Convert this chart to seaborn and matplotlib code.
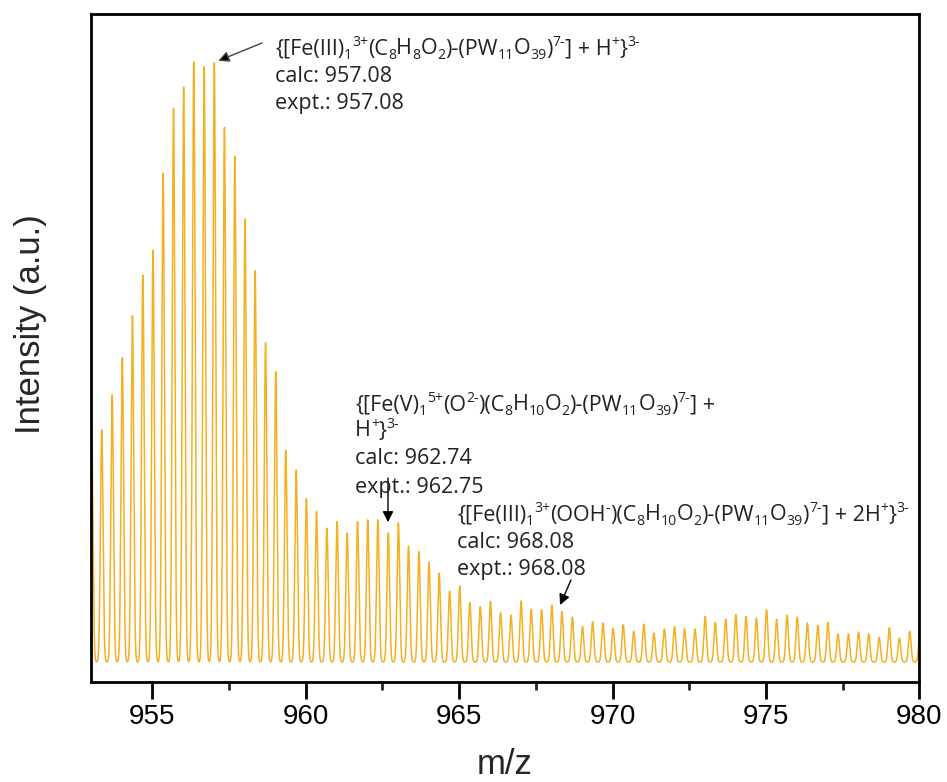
import numpy as np
import pandas as pd
import matplotlib
matplotlib.use("Agg")
import matplotlib.pyplot as plt
import seaborn as sns

# ---- data (peak centroids, relative intensity %) ----
peak_mz = [953.02, 953.35, 953.69, 954.02, 954.35, 954.69, 955.02, 955.35, 955.69,
           956.02, 956.35, 956.69, 957.02, 957.35, 957.69, 958.02, 958.35, 958.69,
           959.02, 959.35, 959.69, 960.02, 960.35, 960.69, 961.02, 961.35, 961.69,
           962.02, 962.35, 962.69, 963.02, 963.35, 963.69, 964.02, 964.35, 964.69,
           965.02, 965.35, 965.69, 966.02, 966.35, 966.69, 967.02, 967.35, 967.69,
           968.02, 968.35, 968.69, 969.02, 969.35, 969.69, 970.02, 970.35, 970.69,
           971.02, 971.35, 971.69, 972.02, 972.35, 972.69, 973.02, 973.35, 973.69,
           974.02, 974.35, 974.69, 975.02, 975.35, 975.69, 976.02, 976.35, 976.69,
           977.02, 977.35, 977.69, 978.02, 978.35, 978.69, 979.02, 979.35, 979.69,
           980.02]
peak_int = [39.2, 38.7, 44.5, 50.7, 57.7, 64.5, 68.6, 81.5, 92.2,
            95.8, 100.0, 99.2, 99.9, 89.1, 84.3, 73.8, 65.2, 53.2,
            48.4, 35.3, 32.0, 27.2, 25.1, 22.3, 23.4, 21.5, 23.4,
            23.7, 23.7, 21.5, 23.2, 19.3, 18.4, 16.6, 14.8, 11.8,
            12.7, 9.9, 9.2, 10.1, 8.2, 7.8, 10.2, 8.8, 8.7,
            9.5, 8.4, 7.5, 5.9, 6.7, 6.5, 5.6, 6.2, 5.1,
            6.3, 4.8, 5.5, 5.9, 5.5, 5.5, 7.6, 6.6, 7.1,
            7.9, 7.6, 7.3, 8.7, 7.1, 7.8, 7.5, 6.5, 6.1,
            6.6, 4.7, 4.7, 5.0, 4.7, 4.1, 5.7, 4.0, 5.1,
            5.3]

xticks_major = [955, 960, 965, 970, 975, 980]
xticks_minor = [957.5, 962.5, 967.5, 972.5, 977.5]

# formula chunks: (text, kind) with n = normal, b = subscript, p = superscript
formula_1 = [("{[Fe(III)", "n"), ("1", "b"), ("3+", "p"), ("(C", "n"), ("8", "b"),
             ("H", "n"), ("8", "b"), ("O", "n"), ("2", "b"), (")-(PW", "n"),
             ("11", "b"), ("O", "n"), ("39", "b"), (")", "n"), ("7-", "p"),
             ("] + H", "n"), ("+", "p"), ("}", "n"), ("3-", "p")]
formula_2a = [("{[Fe(V)", "n"), ("1", "b"), ("5+", "p"), ("(O", "n"), ("2-", "p"),
              (")(C", "n"), ("8", "b"), ("H", "n"), ("10", "b"), ("O", "n"), ("2", "b"),
              (")-(PW", "n"), ("11", "b"), ("O", "n"), ("39", "b"), (")", "n"),
              ("7-", "p"), ("] +", "n")]
formula_2b = [("H", "n"), ("+", "p"), ("}", "n"), ("3-", "p")]
formula_3 = [("{[Fe(III)", "n"), ("1", "b"), ("3+", "p"), ("(OOH", "n"), ("-", "p"),
             (")(C", "n"), ("8", "b"), ("H", "n"), ("10", "b"), ("O", "n"), ("2", "b"),
             (")-(PW", "n"), ("11", "b"), ("O", "n"), ("39", "b"), (")", "n"),
             ("7-", "p"), ("] + 2H", "n"), ("+", "p"), ("}", "n"), ("3-", "p")]
ann_calc = ["957.08", "962.74", "968.08"]
ann_expt = ["957.08", "962.75", "968.08"]
ann_peak_mz = [957.15, 962.68, 968.29]
ann_peak_int = [100.2, 23.3, 9.5]

# ---- build profile from the centroid list (peak broadening for display) ----
mz_grid = np.arange(952.9, 980.1, 0.002)
sigma = 0.042
prof = np.zeros_like(mz_grid)
for m, h in zip(peak_mz, peak_int):
    prof += h * np.exp(-0.5 * ((mz_grid - m) / sigma) ** 2)
df = pd.DataFrame({"mz": mz_grid, "intensity": prof})

# ---- figure ----
sns.set_theme(style="white")
plt.rcParams["font.family"] = ["Liberation Sans", "DejaVu Sans"]

W, H = 947, 782
fig = plt.figure(figsize=(W / 100, H / 100), dpi=100)
ax = fig.add_axes([91 / W, 1 - 682 / H, (919.3 - 91) / W, (682 - 14) / H])

sns.lineplot(data=df, x="mz", y="intensity", ax=ax, color="#F5B022", lw=1.1)

ax.set_xlim(953, 980)
ax.set_ylim(-3.33, 108)
ax.set_xticks(xticks_major)
ax.set_xticks(xticks_minor, minor=True)
ax.set_yticks([])
ax.tick_params(axis="x", which="major", direction="out", length=12, width=2,
               labelsize=20, pad=4, colors="black", bottom=True)
ax.tick_params(axis="x", which="minor", direction="out", length=6, width=2, bottom=True)
for s in ax.spines.values():
    s.set_linewidth(2)
    s.set_color("black")
    s.set_visible(True)

ax.set_xlabel("m/z", fontsize=25)
ax.set_ylabel("Intensity (a.u.)", fontsize=25)
ax.xaxis.set_label_coords(0.5, (682 - 765) / (682 - 14))
ax.xaxis.label.set_va("center")
ax.yaxis.set_label_coords((30 - 91) / (919.3 - 91), (682 - 324) / (682 - 14))
ax.yaxis.label.set_va("center")

# ---- annotations ----
FS = 15.5
TFAM = ["Open Sans", "DejaVu Sans"]
TCOL = "#222222"
renderer = fig.canvas.get_renderer()


def fx(px):
    return px / W


def fy(py):
    return 1 - py / H


def rich(x_px, base_px, chunks, size=FS):
    em = size * 100 / 72
    x = x_px
    for txt, kind in chunks:
        if kind == "n":
            s, dy = size, 0.0
        elif kind == "b":
            s, dy = size * 0.65, 0.22 * em
        else:
            s, dy = size * 0.65, -0.40 * em
        t = fig.text(fx(x), fy(base_px + dy), txt, fontsize=s, family=TFAM,
                     color=TCOL, ha="left", va="baseline")
        x += t.get_window_extent(renderer).width


def plain(x_px, base_px, txt, size=FS):
    fig.text(fx(x_px), fy(base_px), txt, fontsize=size, family=TFAM,
             color=TCOL, ha="left", va="baseline")


arrow_kw = dict(arrowstyle="-|>", lw=1.0, mutation_scale=16, shrinkA=0, shrinkB=0)

# annotation 1
rich(275, 54.5, formula_1)
plain(275, 82, "calc: " + ann_calc[0])
plain(275, 109, "expt.: " + ann_expt[0])
ax.annotate("", xy=(ann_peak_mz[0], ann_peak_int[0]), xycoords="data",
            xytext=(fx(262), fy(43)), textcoords="figure fraction",
            arrowprops=dict(color="#444444", fc="black", **arrow_kw))

# annotation 2
rich(355, 410.5, formula_2a)
rich(355, 436.5, formula_2b)
plain(355, 464.5, "calc: " + ann_calc[1])
plain(355, 492.5, "expt.: " + ann_expt[1])
ax.annotate("", xy=(ann_peak_mz[1], ann_peak_int[1]), xycoords="data",
            xytext=(fx(388), fy(478)), textcoords="figure fraction",
            arrowprops=dict(color="black", fc="black", **arrow_kw))

# annotation 3
rich(457, 520.5, formula_3)
plain(457, 547.5, "calc: " + ann_calc[2])
plain(457, 574.5, "expt.: " + ann_expt[2])
ax.annotate("", xy=(ann_peak_mz[2], ann_peak_int[2]), xycoords="data",
            xytext=(fx(571), fy(580)), textcoords="figure fraction",
            arrowprops=dict(color="black", fc="black", **arrow_kw))

fig.savefig("out.png", dpi=100)
